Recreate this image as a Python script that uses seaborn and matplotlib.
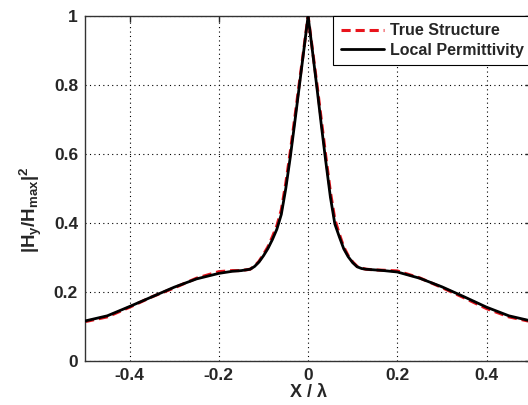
import matplotlib
matplotlib.use("Agg")
import matplotlib.pyplot as plt
import seaborn as sns
import pandas as pd

x_lambda = [-0.5, -0.45, -0.4, -0.35, -0.3, -0.25, -0.2, -0.17, -0.15, -0.13, -0.12,
            -0.11, -0.10, -0.09, -0.08, -0.07, -0.06, -0.05, -0.04, -0.03, -0.02, -0.01,
            0.0, 0.01, 0.02, 0.03, 0.04, 0.05, 0.06, 0.07, 0.08, 0.09, 0.10, 0.11, 0.12,
            0.13, 0.15, 0.17, 0.2, 0.25, 0.3, 0.35, 0.4, 0.45, 0.5]

local_perm = [0.116, 0.131, 0.158, 0.186, 0.214, 0.238, 0.254, 0.260, 0.262, 0.266, 0.274,
              0.287, 0.305, 0.326, 0.352, 0.382, 0.425, 0.500, 0.590, 0.690, 0.793, 0.896,
              1.000, 0.896, 0.790, 0.680, 0.575, 0.475, 0.397, 0.360, 0.325, 0.302, 0.285,
              0.273, 0.268, 0.266, 0.264, 0.262, 0.258, 0.240, 0.215, 0.186, 0.156, 0.131, 0.116]

true_struct = [0.114, 0.128, 0.156, 0.186, 0.212, 0.240, 0.259, 0.262, 0.262, 0.266, 0.275,
               0.289, 0.309, 0.331, 0.360, 0.392, 0.438, 0.515, 0.605, 0.703, 0.802, 0.900,
               1.000, 0.900, 0.800, 0.695, 0.590, 0.490, 0.410, 0.368, 0.330, 0.305, 0.287,
               0.274, 0.269, 0.266, 0.264, 0.263, 0.261, 0.241, 0.213, 0.183, 0.152, 0.128, 0.114]

x_ticks = [-0.4, -0.2, 0, 0.2, 0.4]
x_tick_labels = ["-0.4", "-0.2", "0", "0.2", "0.4"]
y_ticks = [0, 0.2, 0.4, 0.6, 0.8, 1.0]
y_tick_labels = ["0", "0.2", "0.4", "0.6", "0.8", "1"]

sns.set_style("white")
plt.rcParams["font.family"] = ["Liberation Sans", "DejaVu Sans"]
plt.rcParams["font.weight"] = "bold"
plt.rcParams["mathtext.fontset"] = "custom"
plt.rcParams["mathtext.rm"] = "Liberation Sans:bold"
plt.rcParams["mathtext.it"] = "Liberation Sans:bold"
plt.rcParams["mathtext.bf"] = "Liberation Sans:bold"
plt.rcParams["mathtext.default"] = "rm"

df = pd.DataFrame({"x": x_lambda, "true": true_struct, "local": local_perm})

fig = plt.figure(figsize=(5.28, 4.05), dpi=100)
ax = fig.add_axes([0.161, 0.1086, 0.845, 0.852])

sns.lineplot(data=df, x="x", y="true", ax=ax, color="#e8141c", linewidth=2.2,
             linestyle=(0, (3, 1.6)), label="True Structure", zorder=2)
sns.lineplot(data=df, x="x", y="local", ax=ax, color="black", linewidth=2.0,
             label="Local Permittivity", zorder=3)

ax.set_xlim(-0.5, 0.5)
ax.set_ylim(0, 1)
ax.set_xticks(x_ticks)
ax.set_xticklabels(x_tick_labels)
ax.set_yticks(y_ticks)
ax.set_yticklabels(y_tick_labels)
ax.tick_params(direction="in", top=True, right=True, length=4, width=1,
               labelsize=12.5, pad=5)
for lab in ax.get_xticklabels() + ax.get_yticklabels():
    lab.set_fontweight("bold")
ax.grid(True, linestyle=(0, (1, 3)), color="black", linewidth=0.8)
for s in ax.spines.values():
    s.set_color("#333333")
    s.set_linewidth(1.0)

ax.set_xlabel(r"X / $\lambda$", fontsize=13, fontweight="bold", labelpad=0)
ax.set_ylabel(r"$|H_y/H_{max}|^2$", fontsize=13.5, fontweight="bold")
ax.yaxis.set_label_coords(-0.092, 0.438)

leg = ax.legend(loc="upper right", borderaxespad=0, fancybox=False, framealpha=1,
                edgecolor="black", fontsize=11.5, handlelength=2.7, handletextpad=0.4,
                borderpad=0.45, labelspacing=0.3)
leg.get_frame().set_linewidth(0.8)
for t in leg.get_texts():
    t.set_fontweight("bold")

fig.savefig("out.png", dpi=100)
